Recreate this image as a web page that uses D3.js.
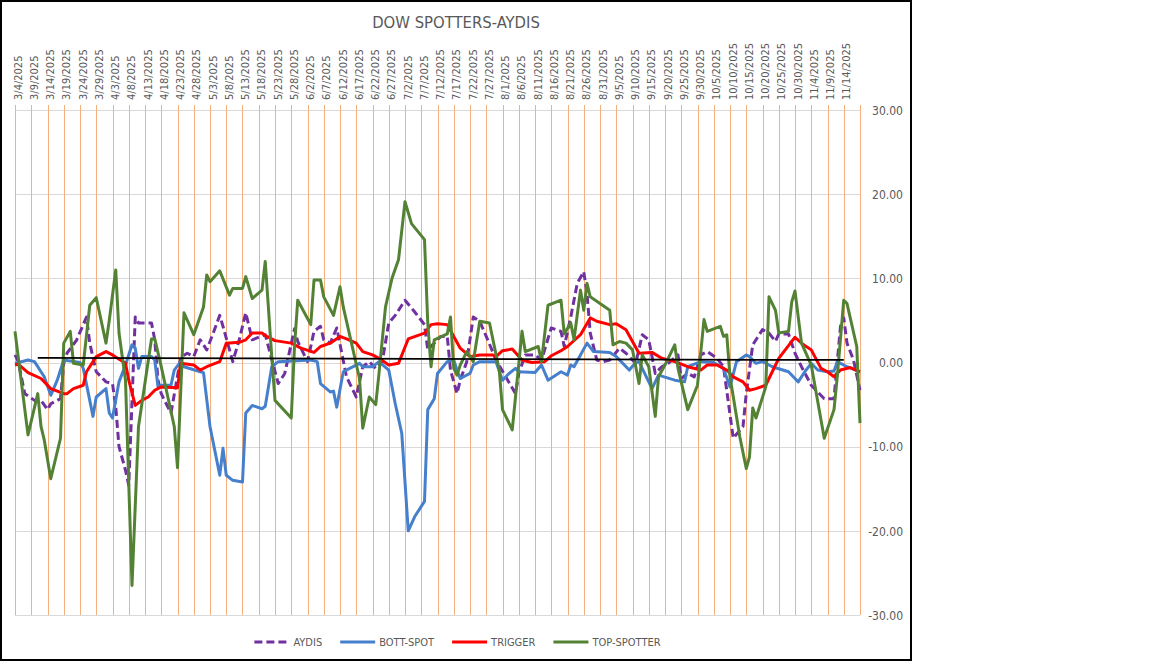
<!DOCTYPE html>
<html lang="en">
<head>
    <meta charset="UTF-8">
    <title>DOW SPOTTERS-AYDIS</title>
    <script src="https://cdnjs.cloudflare.com/ajax/libs/d3/7.8.0/d3.min.js"></script>
    <style>
        body { margin: 0; background: #fff; }
        svg { display: block; }
        text { font-family: "DejaVu Sans Condensed", "DejaVu Sans", sans-serif; fill: #595959; }
    </style>
</head>
<body>

    <svg id="viz" width="1152" height="662"></svg>

    <script>
        // tick labels on the date axis (every 5 days)
        const tickLabels = ["3/4","3/9","3/14","3/19","3/24","3/29","4/3","4/8","4/13","4/18","4/23","4/28",
            "5/3","5/8","5/13","5/18","5/23","5/28","6/2","6/7","6/12","6/17","6/22","6/27","7/2","7/7",
            "7/12","7/17","7/22","7/27","8/1","8/6","8/11","8/16","8/21","8/26","8/31","9/5","9/10","9/15",
            "9/20","9/25","9/30","10/5","10/10","10/15","10/20","10/25","10/30","11/4","11/9","11/14"];
        const axisEnd = "11/19";
        const yTicks = [-30, -20, -10, 0, 10, 20, 30];

        const seriesNames = ["AYDIS", "BOTT-SPOT", "TRIGGER", "TOP-SPOTTER"];

        const aydis = [["3/4",0.9],["3/5",0.1],["3/7",-3.7],["3/10",-4.5],["3/12",-4.5],["3/14",-5.6],["3/15",-4.9],["3/18",-4.3],
            ["3/19",-0.1],["3/20",1.1],["3/23",2.7],["3/26",5.4],["3/27",2.3],["3/29",-1.1],["4/1",-2.3],["4/3",-2.5],["4/4",-5.3],
            ["4/5",-10.0],["4/7",-12.8],["4/8",-14.6],["4/10",5.4],["4/11",4.7],["4/15",4.7],["4/16",2.7],["4/17",-2.1],["4/18",-3.7],
            ["4/19",-4.5],["4/21",-6.0],["4/24",0.6],["4/26",1.1],["4/28",0.7],["4/30",2.7],["5/2",1.5],["5/4",3.5],["5/6",5.6],
            ["5/7",4.3],["5/10",0.1],["5/12",2.7],["5/14",5.9],["5/16",2.7],["5/20",3.3],["5/24",-2.5],["5/26",-1.3],["5/29",4.0],
            ["5/30",2.5],["6/2",0.1],["6/4",3.7],["6/6",4.3],["6/7",2.7],["6/9",2.3],["6/11",4.1],["6/14",-1.7],["6/17",-4.1],
            ["6/19",-0.5],["6/21",0.1],["6/23",-0.7],["6/25",0.1],["6/27",4.7],["6/29",5.6],["7/2",7.4],["7/5",6.0],["7/8",4.5],
            ["7/9",1.5],["7/11",2.3],["7/13",3.1],["7/15",3.1],["7/16",-0.9],["7/18",-3.7],["7/19",-2.1],["7/21",0.1],["7/23",5.4],
            ["7/25",4.9],["7/27",3.1],["7/30",0.3],["8/2",-1.7],["8/5",-3.7],["8/6",-1.3],["8/8",0.9],["8/11",0.9],["8/13",0.3],
            ["8/16",4.1],["8/19",3.7],["8/20",1.9],["8/22",5.4],["8/23",7.4],["8/24",9.4],["8/26",10.8],["8/27",8.2],["8/28",3.5],
            ["8/30",0.3],["9/1",0.1],["9/3",0.3],["9/6",1.7],["9/8",1.1],["9/11",-0.1],["9/13",3.3],["9/15",2.7],["9/17",-1.3],
            ["9/19",-0.5],["9/21",-0.1],["9/24",0.9],["9/25",-1.9],["9/27",-1.3],["9/29",-1.7],["10/1",0.9],["10/3",1.3],["10/6",0.5],
            ["10/8",-0.5],["10/11",-9.0],["10/14",-7.6],["10/15",-3.7],["10/17",2.1],["10/20",3.9],["10/22",3.5],["10/24",2.5],
            ["10/25",3.4],["10/28",3.4],["10/30",1.1],["11/1",-0.5],["11/4",-2.7],["11/8",-4.3],["11/11",-4.3],["11/13",4.3],
            ["11/14",5.3],["11/15",2.3],["11/17",0.3],["11/19",-3.3]];

        const bottSpot = [["3/4",-0.1],["3/8",0.3],["3/10",0.1],["3/12",-1.1],["3/13",-1.7],["3/15",-3.9],["3/17",-2.1],["3/18",-0.9],
            ["3/19",0.3],["3/24",0.0],["3/25",-0.7],["3/28",-6.4],["3/29",-4.1],["4/1",-3.1],["4/2",-6.0],["4/3",-6.6],["4/5",-2.3],
            ["4/7",-0.3],["4/9",2.1],["4/10",1.7],["4/11",-0.7],["4/12",0.7],["4/15",0.7],["4/16",0.3],["4/17",-2.9],["4/18",-2.7],
            ["4/21",-2.7],["4/22",-0.9],["4/24",0.1],["4/25",-0.5],["4/30",-1.1],["5/1",-1.2],["5/3",-7.6],["5/6",-13.4],["5/7",-10.2],
            ["5/8",-13.4],["5/10",-14.0],["5/13",-14.2],["5/14",-6.0],["5/16",-5.1],["5/19",-5.5],["5/20",-5.2],["5/22",-0.5],
            ["5/24",0.1],["6/3",0.3],["6/5",0.1],["6/6",-2.5],["6/9",-3.5],["6/10",-3.4],["6/11",-5.3],["6/13",-1.1],["6/15",-0.7],
            ["6/18",-0.1],["6/19",-0.5],["6/22",-0.5],["6/24",0.1],["6/27",-0.9],["6/29",-4.9],["7/1",-8.4],["7/3",-20.0],["7/5",-18.3],
            ["7/8",-16.5],["7/9",-5.6],["7/11",-4.3],["7/12",-1.3],["7/15",0.1],["7/17",0.3],["7/18",-0.9],["7/19",-1.9],["7/22",-1.3],
            ["7/23",-0.3],["7/25",0.1],["7/30",0.1],["8/1",-2.1],["8/3",-1.3],["8/5",-0.7],["8/6",-1.1],["8/11",-1.2],["8/13",-0.3],
            ["8/15",-2.1],["8/19",-1.1],["8/21",-1.5],["8/22",-0.3],["8/23",-0.5],["8/25",0.9],["8/27",2.3],["8/29",1.3],["9/3",1.2],
            ["9/5",0.7],["9/9",-0.9],["9/11",0.0],["9/12",0.1],["9/16",-3.1],["9/18",-1.5],["9/23",-2.1],["9/26",-2.3],["9/27",-0.5],
            ["10/1",0.1],["10/5",0.0],["10/8",-0.7],["10/10",-2.9],["10/12",0.1],["10/15",0.9],["10/16",0.7],["10/18",-0.1],
            ["10/20",0.1],["10/23",-0.5],["10/28",-1.1],["10/31",-2.3],["11/2",-1.1],["11/4",-0.1],["11/6",-0.9],["11/9",-1.1],
            ["11/11",-1.0],["11/12",0.1],["11/15",-0.5],["11/19",-1.1]];

        const trigger = [["3/4",-0.3],["3/5",-0.2],["3/8",-1.2],["3/12",-1.9],["3/15",-3.1],["3/19",-3.7],["3/20",-3.7],["3/22",-3.1],
            ["3/25",-2.7],["3/26",-1.1],["3/29",0.7],["4/1",1.3],["4/3",0.9],["4/7",-0.1],["4/8",-2.1],["4/10",-5.1],["4/12",-4.5],
            ["4/14",-4.1],["4/16",-3.3],["4/18",-2.9],["4/23",-3.0],["4/24",-0.1],["4/28",-0.3],["4/30",-0.9],["5/2",-0.5],["5/6",0.1],
            ["5/8",2.3],["5/12",2.4],["5/14",2.7],["5/16",3.5],["5/19",3.5],["5/20",3.2],["5/23",2.6],["5/28",2.3],["5/31",1.7],
            ["6/4",1.2],["6/6",1.9],["6/9",2.3],["6/12",3.1],["6/14",2.8],["6/17",2.3],["6/19",1.3],["6/22",0.9],["6/24",0.5],
            ["6/27",-0.3],["6/30",-0.1],["7/3",2.8],["7/8",3.5],["7/10",4.5],["7/12",4.6],["7/15",4.5],["7/17",3.1],["7/19",1.7],
            ["7/22",0.7],["7/25",0.9],["7/29",0.9],["7/30",0.7],["8/1",1.4],["8/4",1.6],["8/7",0.3],["8/10",0.0],["8/14",0.1],
            ["8/16",0.8],["8/19",1.4],["8/21",1.9],["8/25",3.3],["8/28",5.3],["8/30",4.9],["9/3",4.5],["9/5",4.6],["9/8",3.9],
            ["9/12",1.1],["9/16",1.2],["9/19",0.5],["9/23",0.1],["9/27",-0.5],["10/1",-0.9],["10/3",-0.3],["10/6",-0.3],["10/9",-0.9],
            ["10/11",-1.7],["10/14",-2.3],["10/16",-3.3],["10/18",-3.1],["10/21",-2.7],["10/23",-1.1],["10/25",0.5],["10/29",2.5],
            ["10/30",3.0],["11/1",2.3],["11/4",1.5],["11/7",-0.7],["11/9",-1.1],["11/11",-1.7],["11/13",-0.9],["11/16",-0.6],
            ["11/19",-1.1]];

        const topSpotter = [["3/4",3.7],["3/8",-8.6],["3/11",-3.7],["3/12",-7.6],["3/13",-9.2],["3/15",-13.8],["3/18",-9.0],["3/19",2.3],
            ["3/21",3.7],["3/22",-0.1],["3/25",-0.3],["3/27",6.8],["3/29",7.7],["4/1",2.3],["4/2",5.0],["4/4",11.0],["4/5",3.5],
            ["4/7",-2.1],["4/9",-26.5],["4/11",-7.6],["4/15",2.8],["4/16",2.8],["4/18",-0.5],["4/22",-7.6],["4/23",-12.5],["4/25",5.9],
            ["4/28",3.3],["5/1",6.6],["5/2",10.4],["5/3",9.6],["5/6",10.9],["5/9",8.0],["5/10",8.8],["5/13",8.8],["5/14",10.2],
            ["5/16",7.6],["5/19",8.6],["5/20",12.0],["5/22",0.7],["5/23",-4.5],["5/28",-6.6],["5/29",1.9],["5/30",7.4],["6/3",4.5],
            ["6/4",9.8],["6/6",9.8],["6/7",7.8],["6/10",5.6],["6/12",9.0],["6/13",6.6],["6/18",-1.9],["6/19",-7.8],["6/21",-4.1],
            ["6/23",-5.0],["6/24",-1.3],["6/26",6.6],["6/28",10.0],["6/30",12.2],["7/2",19.1],["7/4",16.5],["7/8",14.6],["7/9",4.7],
            ["7/10",-0.5],["7/11",2.7],["7/15",3.4],["7/16",5.4],["7/17",-0.7],["7/18",-1.5],["7/19",-0.3],["7/21",1.3],["7/23",0.1],
            ["7/25",4.9],["7/28",4.7],["7/31",-0.9],["8/1",-5.6],["8/4",-8.0],["8/7",3.7],["8/8",1.3],["8/12",1.9],["8/13",0.1],
            ["8/15",6.8],["8/19",7.4],["8/20",3.4],["8/22",4.7],["8/23",2.7],["8/25",8.6],["8/26",6.2],["8/27",9.4],["8/28",7.8],
            ["9/3",6.2],["9/4",2.1],["9/6",2.5],["9/8",2.3],["9/10",1.5],["9/12",-2.5],["9/13",0.9],["9/15",-0.5],["9/17",-6.4],
            ["9/18",-1.7],["9/20",-0.3],["9/23",2.1],["9/24",-0.7],["9/27",-5.6],["9/30",-2.7],["10/2",5.1],["10/3",3.7],["10/7",4.3],
            ["10/8",3.1],["10/9",3.3],["10/10",-1.7],["10/13",-8.8],["10/15",-12.6],["10/16",-11.2],["10/17",-5.4],["10/18",-6.6],
            ["10/21",-2.9],["10/22",7.8],["10/24",6.2],["10/25",3.5],["10/28",3.7],["10/29",7.2],["10/30",8.5],["11/1",2.3],
            ["11/4",-0.3],["11/8",-9.0],["11/11",-5.6],["11/12",-1.7],["11/14",7.4],["11/15",7.0],["11/18",1.9],["11/19",-7.2]];

        // black reference line (slightly falling)
        const trendLine = [["3/11",0.55],["11/14",0.3]];

        const parseDay = s => d3.timeParse("%m/%d/%Y")(s + "/2025");

        let svg = d3.select('#viz');
        let plotLeft = 15, plotRight = 860, plotTop = 110, plotBottom = 615;

        let x = d3.scaleTime().domain([parseDay("3/4"), parseDay(axisEnd)]).range([plotLeft, plotRight]);
        let y = d3.scaleLinear().domain([-30, 30]).range([plotBottom, plotTop]);

        // outer frame
        svg.append("rect")
            .attr("x", 1).attr("y", 1).attr("width", 910).attr("height", 659)
            .attr("fill", "none").attr("stroke", "#000").attr("stroke-width", 2);

        // title
        svg.append("text")
            .attr("x", 456).attr("y", 28)
            .attr("text-anchor", "middle")
            .style("font-size", "16.5px")
            .text("DOW SPOTTERS-AYDIS");

        // horizontal gridlines
        svg.append("g").selectAll("line").data(yTicks).join("line")
            .attr("x1", plotLeft).attr("x2", plotRight)
            .attr("y1", d => Math.round(y(d)) + 0.5).attr("y2", d => Math.round(y(d)) + 0.5)
            .attr("stroke", "#d9d9d9").attr("stroke-width", 1);

        // vertical gridlines (orange) at each 5-day tick + right edge
        let tickDates = tickLabels.map(parseDay);
        svg.append("g").selectAll("line").data(tickDates.concat([parseDay(axisEnd)])).join("line")
            .attr("x1", d => Math.round(x(d)) + 0.5).attr("x2", d => Math.round(x(d)) + 0.5)
            .attr("y1", plotTop - 5).attr("y2", plotBottom)
            .attr("stroke", "#f6b07e").attr("stroke-width", 1);

        // date axis on top
        let xAxis = svg.append("g")
            .attr("transform", "translate(0," + plotTop + ")")
            .call(d3.axisTop(x).tickValues(tickDates).tickSize(0).tickFormat(d3.timeFormat("%-m/%-d/%Y")));
        xAxis.select(".domain").remove();
        xAxis.selectAll("text")
            .attr("transform", "rotate(-90)")
            .attr("x", 10).attr("y", 6).attr("dy", 0)
            .attr("text-anchor", "start")
            .style("font-size", "11px")
            .attr("fill", "#595959");

        // value axis on right
        let yAxis = svg.append("g")
            .attr("transform", "translate(" + plotRight + ",0)")
            .call(d3.axisRight(y).tickValues(yTicks).tickSize(0).tickFormat(d => d.toFixed(2)));
        yAxis.select(".domain").remove();
        yAxis.selectAll("text")
            .attr("x", 43).attr("dy", "0.35em")
            .attr("text-anchor", "end")
            .style("font-size", "12px")
            .attr("fill", "#595959");

        let line = d3.line()
            .x(d => x(parseDay(d[0])))
            .y(d => y(d[1]));

        let series = [
            { name: seriesNames[0], data: aydis, color: "#7030a0", dash: "8,4" },
            { name: seriesNames[1], data: bottSpot, color: "#4680cc", dash: null },
            { name: seriesNames[2], data: trigger, color: "#ff0000", dash: null },
            { name: seriesNames[3], data: topSpotter, color: "#548235", dash: null }
        ];

        series.forEach(s => {
            svg.append("path")
                .datum(s.data)
                .attr("d", line)
                .attr("fill", "none")
                .attr("stroke", s.color)
                .attr("stroke-width", 3)
                .attr("stroke-linejoin", "round")
                .attr("stroke-dasharray", s.dash);
        });

        svg.append("path")
            .datum(trendLine)
            .attr("d", line)
            .attr("fill", "none")
            .attr("stroke", "#000")
            .attr("stroke-width", 1.75);

        // legend, centred under the plot
        let legend = svg.append("g");
        let lx = 0;
        series.forEach(s => {
            let g = legend.append("g").attr("transform", "translate(" + lx + ",0)");
            g.append("line")
                .attr("x1", 0).attr("x2", 35).attr("y1", 0).attr("y2", 0)
                .attr("stroke", s.color).attr("stroke-width", 3)
                .attr("stroke-dasharray", s.dash);
            let t = g.append("text")
                .attr("x", 39).attr("y", 0).attr("dy", "0.35em")
                .style("font-size", "11px")
                .text(s.name);
            lx += 39 + t.node().getComputedTextLength() + 18;
        });
        lx -= 18;
        legend.attr("transform", "translate(" + (457.5 - lx / 2) + ",642)");
    </script>
</body>
</html>
